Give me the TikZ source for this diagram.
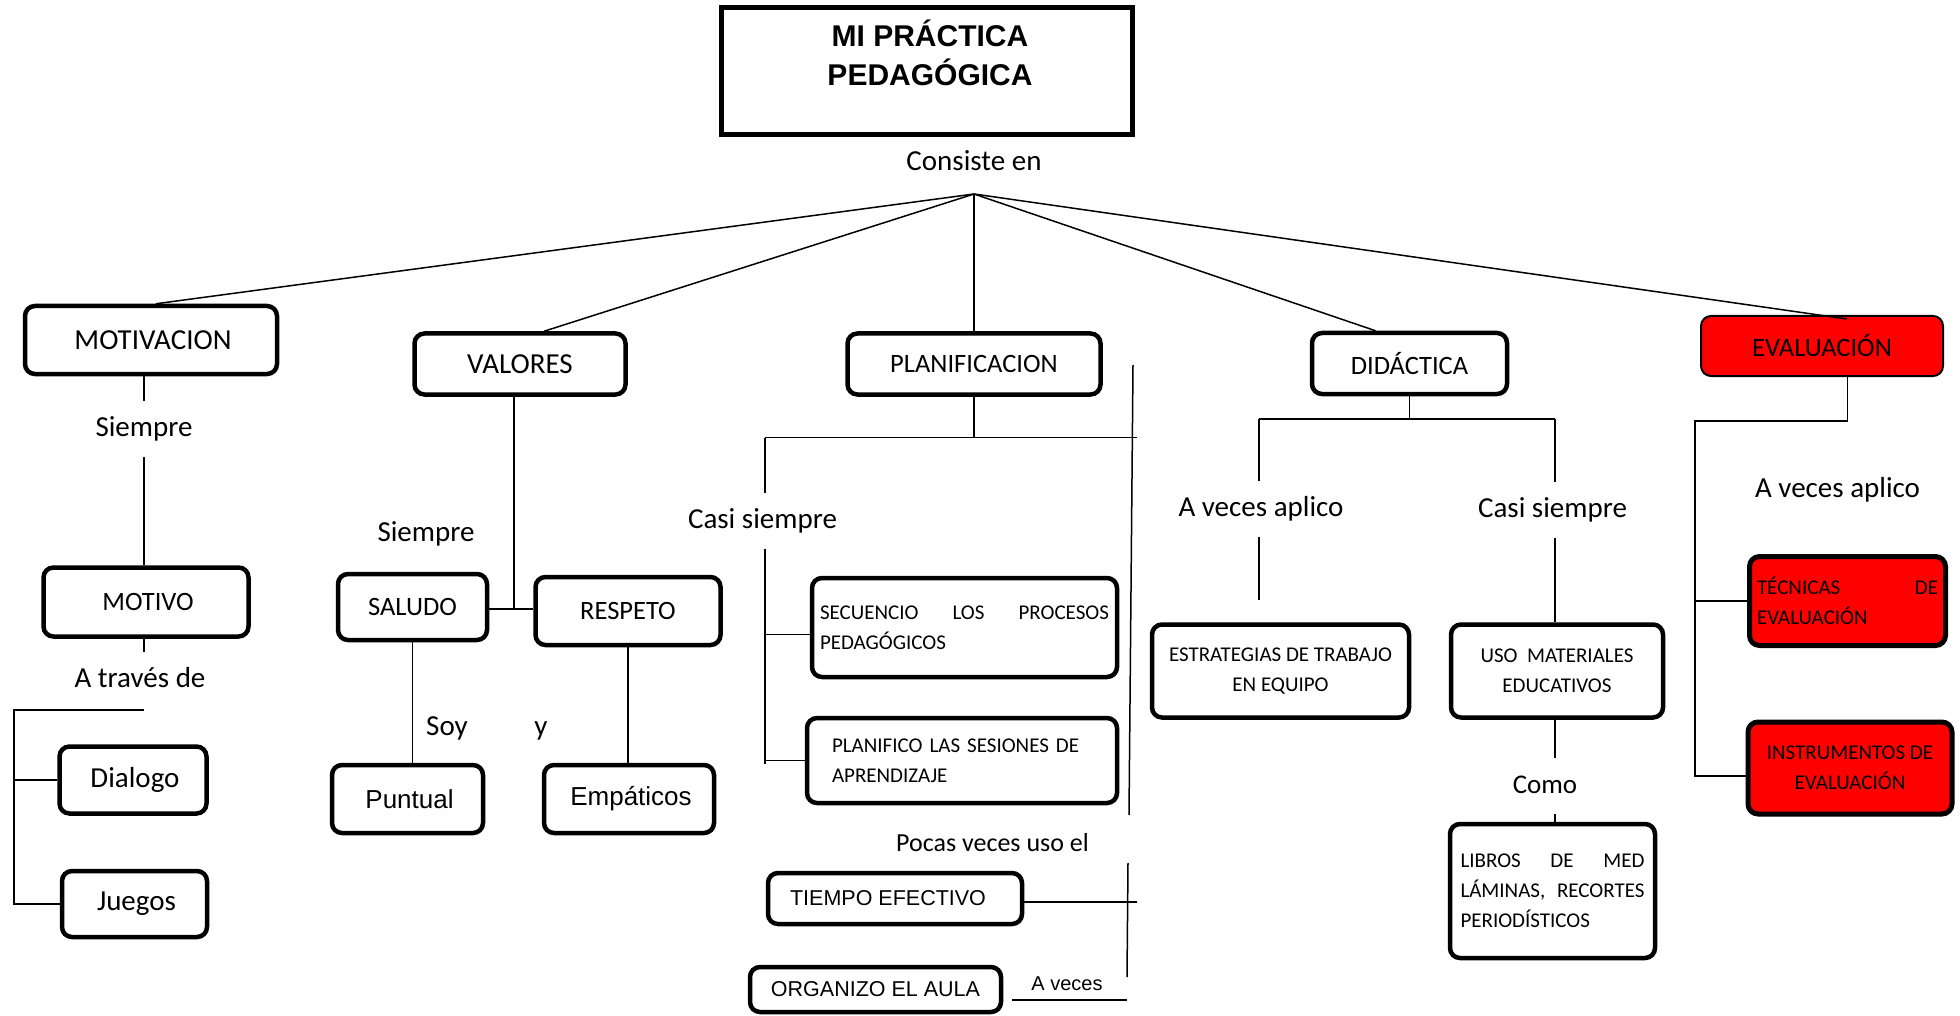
\documentclass[tikz,border=0pt]{standalone}
\usepackage{fontspec}
\setmainfont{Carlito}
\newfontfamily\arialfont{Liberation Sans}
\newcommand\fsz[2]{\fontsize{#1pt}{#2pt}\selectfont}
\begin{document}
\begin{tikzpicture}[x=1pt,y=-1pt,
  box/.style={draw=black, line width=4.5pt, rounded corners=10pt, inner sep=0pt, font=\fsz{26.5}{32}},
  bigbox/.style={box, font=\fsz{29}{35}},
  abox/.style={box, font=\arialfont\fsz{26}{31}},
  sbox/.style={box, font=\arialfont\fsz{21.5}{25}},
  tbox/.style={box, font=\fsz{21}{30}},
  lbl/.style={inner xsep=2pt, inner ysep=15pt, text height=20pt, text depth=6pt, font=\fsz{29}{35}},
  conn/.style={line width=1.5pt, line cap=butt},
]
\fill[white] (0,0) rectangle (1960,1016);
\useasboundingbox (0,0) rectangle (1960,1016);

% title
\node[draw, line width=5pt, minimum width=411pt, minimum height=127pt, inner sep=0pt] (title) at (927,71) {};
\node[font=\arialfont\bfseries\fsz{30}{39}, align=center, inner sep=0pt] (titletext) at (930,53) {MI PRÁCTICA\\PEDAGÓGICA};
\node[lbl] (consiste) at (974,164) {Consiste en};
\coordinate (apex) at (974,194);

% motivacion column
\node[bigbox, minimum width=252pt, minimum height=68pt] (motivacion) at (151,340) {\hspace{4pt}MOTIVACION};
\node[box, minimum width=205pt, minimum height=69pt] (motivo) at (146,602) {\hspace{4pt}MOTIVO};
\node[bigbox, minimum width=147pt, minimum height=67pt] (dialogo) at (133,780) {\hspace{4pt}Dialogo};
\node[bigbox, minimum width=145pt, minimum height=66pt] (juegos) at (134.5,904) {\hspace{4pt}Juegos};
\node[lbl] (siempre1) at (144,429) {Siempre};
\node[lbl] (atraves) at (140,680) {A través de};

% valores column
\node[bigbox, minimum width=211pt, minimum height=61pt] (valores) at (520,364) {VALORES};
\node[box, minimum width=149pt, minimum height=66pt] (saludo) at (412.5,607) {SALUDO};
\node[box, minimum width=185pt, minimum height=68pt] (respeto) at (628,611) {RESPETO};
\node[abox, minimum width=151pt, minimum height=68pt] (puntual) at (407.5,799) {\hspace{4pt}Puntual};
\node[abox, minimum width=170pt, minimum height=68pt] (empaticos) at (629,799) {\hspace{4pt}Empáticos};
\node[lbl] (siempre2) at (426,534) {Siempre};
\node[lbl] (soy) at (447,728) {Soy};
\node[lbl] (yy) at (541,728) {y};

% planificacion column
\node[box, minimum width=253pt, minimum height=61pt] (planif) at (974,364) {PLANIFICACION};
\node[tbox, text width=289pt, align=left, inner xsep=8pt, minimum height=99pt] (secuencio) at (964.5,627.5) {SECUENCIO\hfill LOS\hfill PROCESOS\\PEDAGÓGICOS};
\node[tbox, text width=260pt, align=left, inner xsep=25pt, minimum height=85pt] (planifico) at (962,760.5) {PLANIFICO LAS SESIONES DE\\APRENDIZAJE};
\node[sbox, minimum width=254pt, minimum height=51pt] (tiempo) at (895,898.5) {TIEMPO EFECTIVO\hspace*{14pt}};
\node[sbox, minimum width=251pt, minimum height=45pt] (organizo) at (875.5,989.5) {ORGANIZO EL AULA};
\node[lbl] (casi1) at (762.5,521) {Casi siempre};
\node[lbl, font=\fsz{26}{31}] (pocas) at (992.5,844) {Pocas veces uso el};
\node[lbl, font=\arialfont\fsz{20}{24}, inner ysep=2pt, text height=15pt, text depth=4pt] (aveces) at (1067,985) {A veces};

% didactica column
\node[box, minimum width=195pt, minimum height=61pt] (didactica) at (1409.5,363.5) {DIDÁCTICA};
\node[tbox, align=center, minimum width=257pt, minimum height=93pt] (estrategias) at (1280.5,671) {ESTRATEGIAS DE TRABAJO\\EN EQUIPO};
\node[tbox, align=center, minimum width=212pt, minimum height=93pt] (uso) at (1557,671) {USO\ \ MATERIALES\\EDUCATIVOS};
\node[tbox, text width=184pt, align=left, inner xsep=10.5pt, minimum height=134pt] (libros) at (1552.5,891) {LIBROS\hfill DE\hfill MED\\LÁMINAS,\hfill RECORTES\\PERIODÍSTICOS};
\node[lbl] (aveces1) at (1261,509) {A veces aplico};
\node[lbl] (casi2) at (1552.5,510) {Casi siempre};
\node[lbl, font=\fsz{27}{32}] (como) at (1545,786) {Como};

% evaluacion column
\node[box, line width=2pt, fill=red, minimum width=242pt, minimum height=60pt] (evaluacion) at (1822,346) {EVALUACIÓN};
\node[tbox, fill=red, line width=5pt, text width=181pt, align=left, inner xsep=7.5pt, minimum height=89pt] (tecnicas) at (1847.5,601) {TÉCNICAS\hfill DE\\EVALUACIÓN};
\node[tbox, fill=red, line width=5pt, align=center, minimum width=204pt, minimum height=92pt] (instr) at (1850,768) {INSTRUMENTOS DE\\EVALUACIÓN};
\node[lbl] (aveces2) at (1837.5,490) {A veces aplico};

% connectors from apex
\draw[conn] (apex) -- ([xshift=5pt]motivacion.north);
\draw[conn] (apex) -- ([xshift=24pt]valores.north);
\draw[conn] (apex) -- (planif.north);
\draw[conn] (apex) -- ([xshift=-34pt]didactica.north);
\draw[conn] (apex) -- ([xshift=25pt,yshift=-4pt]evaluacion.north);

% motivacion connectors
\draw[conn] (siempre1.north) -- (siempre1.north |- motivacion.south);
\draw[conn] (siempre1.south) -- (siempre1.south |- motivo.north);
\draw[conn] (motivo.south -| siempre1.south) -- (atraves.north -| siempre1.south);
\coordinate (brL) at (14,710);
\draw[conn] (brL -| siempre1.south) -- (brL) -- (brL |- juegos.west) -- (juegos.west);
\draw[conn] (brL |- dialogo.west) -- (dialogo.west);

% valores connectors
\coordinate (vj) at (514,609);
\draw[conn] (vj |- valores.south) -- (vj);
\draw[conn] (saludo.east |- vj) -- (respeto.west |- vj);
\draw[conn] (saludo.south) -- (saludo.south |- puntual.north);
\draw[conn] (respeto.south) -- (respeto.south |- empaticos.north);

% planificacion connectors
\coordinate (pL) at (765,437.5);
\coordinate (pR) at (1137,437.5);
\draw[conn] (planif.south) -- (planif.south |- pL);
\draw[conn] (pL) -- (pR);
\draw[conn] (pL) -- (pL |- casi1.north);
\coordinate (plEnd) at (765,764);
\draw[conn] (pL |- casi1.south) -- (plEnd);
\coordinate (secIn) at ([yshift=-7pt]secuencio.west);
\draw[conn] (pL |- secIn) -- (secIn);
\draw[conn] (pL |- planifico.west) -- (planifico.west);
\coordinate (vt1) at (1133,365);
\coordinate (vt2) at (1129,815);
\draw[conn] (vt1) -- (vt2);
\coordinate (vb1) at (1128,863);
\coordinate (vb2) at (1127,977);
\draw[conn] (vb1) -- (vb2);
\coordinate (tR) at (1137,902);
\draw[conn] (tiempo.east |- tR) -- (tR);
\coordinate (oL) at (1012,1000);
\coordinate (oR) at (1127,1000);
\draw[conn] (oL) -- (oR);

% didactica connectors
\coordinate (dL) at (1259,419);
\coordinate (dR) at (1555,419);
\draw[conn] (didactica.south) -- (didactica.south |- dL);
\draw[conn] (dL) -- (dR);
\draw[conn] (dL) -- (dL |- aveces1.north);
\coordinate (dLend) at (1259,600);
\draw[conn] (dL |- aveces1.south) -- (dLend);
\draw[conn] (dR) -- (dR |- casi2.north);
\draw[conn] (dR |- casi2.south) -- (dR |- uso.north);
\draw[conn] (dR |- uso.south) -- (dR |- como.north);
\draw[conn] (dR |- como.south) -- (dR |- libros.north);

% evaluacion connectors
\coordinate (eR) at (1847.5,421);
\coordinate (eL) at (1695,421);
\coordinate (insIn) at ([yshift=-8pt]instr.west);
\draw[conn] (eR |- evaluacion.south) -- (eR) -- (eL) -- (eL |- insIn) -- (insIn);
\draw[conn] (eL |- tecnicas.west) -- (tecnicas.west);
\end{tikzpicture}
\end{document}
